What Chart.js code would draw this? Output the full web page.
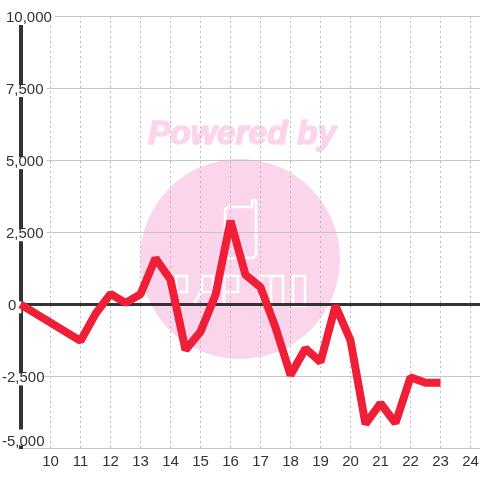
<!DOCTYPE html>
<html><head><meta charset="utf-8">
<style>html,body{margin:0;padding:0;background:#fff}#w{width:480px;height:480px}</style>
<script src="https://cdn.jsdelivr.net/npm/chart.js@4"></script></head>
<body><div id="w"><canvas id="c" width="480" height="480"></canvas></div>
<script>
const xValues=[9,11,11.5,12,12.5,13,13.5,14,14.5,15,15.5,16,16.5,17,17.5,18,18.5,19,19.5,20,20.5,21,21.5,22,22.5,23];
const yValues=[0,-1270,-330,365,50,350,1600,850,-1580,-950,320,2900,1020,600,-800,-2450,-1530,-2000,-50,-1250,-4150,-3430,-4120,-2530,-2720,-2720];
const xTicks=[9,10,11,12,13,14,15,16,17,18,19,20,21,22,23,24];
const yLabelled=[10000,7500,5000,2500,0,-2500,-5000];
const watermarkText='Powered by';
const FONT='"Liberation Sans",Arial,sans-serif';

const watermark={id:'watermark',beforeDraw(chart){
  const g=chart.ctx;g.save();
  g.fillStyle='#fff';g.fillRect(0,0,480,480);
  g.fillStyle='#fbd5ec';
  g.beginPath();g.arc(240,259,100,0,Math.PI*2);g.fill();
  g.font='italic bold 33.5px '+FONT;g.textAlign='center';g.textBaseline='middle';
  g.lineWidth=1.6;g.strokeStyle='#fbd5ec';g.lineJoin='round';
  g.fillText(watermarkText,242,135);g.strokeText(watermarkText,242,135);
  g.strokeStyle='#fff';g.lineWidth=2.6;g.lineCap='round';
  const paths=[
   'M225 240V212Q225 207 230 207H252V202Q252 200 254 200Q256 200 256 202V253Q256 258 251 258H228',
   'M176 302V276H187V292H176','M195 302L202 290V276H213V292H202','M224 304V276H238V292H224',
   'M260 304V276H283V304M271 276V304','M293 276H305V306H293Z'];
  paths.forEach(p=>g.stroke(new Path2D(p)));
  g.restore();
}};
const tickShift={id:'tickShift',afterUpdate(chart){
  const s=chart.scales.y;const orig=s.getLabelItems;
  s._shifted=false;
  s.getLabelItems=function(a){
    const items=orig.call(this,a);
    if(this._shifted)return items;
    items.forEach(it=>{
      const o=it.options;
      const neg=String(it.label).startsWith('-');
      const dx=neg?-4:(it.label==='0'?2:0);
      const last=it.label==='-5,000';
      const dy=last?-7:1.5;
      o.translation=[o.translation[0]+dx,o.translation[1]+dy];
      if(o.backdrop){
        o.backdrop.left+=dx;
        o.backdrop.top+=dy+(last?4:3);
        o.backdrop.height=last?16:12;
      }
    });
    this._shifted=true;return items;
  };
}};
new Chart(document.getElementById('c'),{
  type:'line',
  data:{datasets:[{data:xValues.map((x,i)=>({x,y:yValues[i]})),borderColor:'#ee1f36',borderWidth:8,
    pointRadius:0,tension:0,borderCapStyle:'butt',borderJoinStyle:'bevel',fill:false,clip:false}]},
  options:{responsive:false,animation:false,
    layout:{padding:{top:16,right:0,bottom:0,left:0}},
    plugins:{legend:{display:false},tooltip:{enabled:false}},
    scales:{
      x:{type:'linear',min:9,max:24.317,
        afterBuildTicks(s){s.ticks=xTicks.map(value=>({value}));},
        afterFit(s){s.height=31.5;s.paddingRight=0;s.paddingLeft=0;},
        ticks:{autoSkip:false,maxRotation:0,color:'#333',font:{family:FONT,size:15},padding:4,
          callback:v=>v===9?null:String(v)},
        grid:{color:'#bbb',lineWidth:1,drawTicks:false},
        border:{display:false,dash:[2,3]}},
      y:{type:'linear',min:-5000,max:10000,position:'left',
        afterFit(s){s.width=20.5;},
        ticks:{stepSize:1250,autoSkip:false,maxTicksLimit:100,mirror:true,padding:-14.5,color:'#333',font:{family:FONT,size:15},
          showLabelBackdrop:true,backdropColor:'#fff',backdropPadding:{left:0,right:3,top:0,bottom:0},
          callback:v=>yLabelled.includes(v)?v.toLocaleString('en-US'):null},
        grid:{drawTicks:false,color:c=>c.tick.value===0?'#333':'#c6c6c6',lineWidth:c=>c.tick.value===0?3:1},
        border:{display:true,color:'#333',width:4}}
    }},
  plugins:[watermark,tickShift]
});
</script></body></html>
